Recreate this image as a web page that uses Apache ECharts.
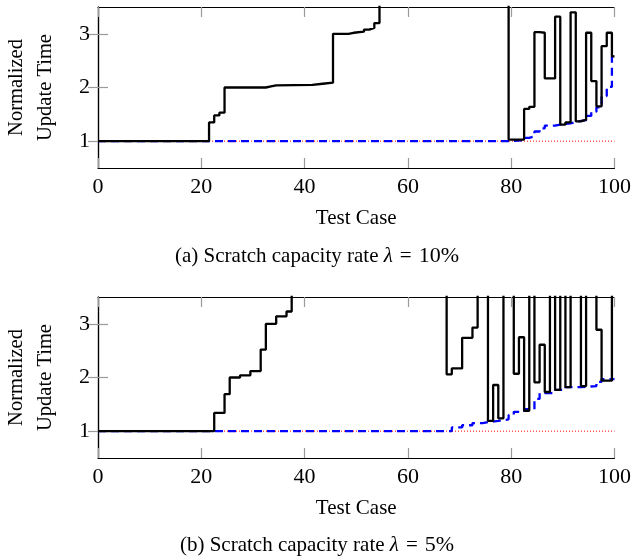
<!DOCTYPE html>
<html><head><meta charset="utf-8">
<script src="https://cdn.jsdelivr.net/npm/echarts@6/dist/echarts.min.js"></script>
<style>html,body{margin:0;padding:0;background:#fff}#c{width:634px;height:556px}</style>
</head><body><div id="c"></div>
<script>
// ---- data ----
const xTicks = [0, 20, 40, 60, 80, 100];
const yTicks = [1, 2, 3];

// (a) lambda = 10%
const topBlackX = [0, 21.5, 22.5, 23.5, 24.5, 32.5, 33.5, 34.5, 41.5, 43.5, 45.5, 48.5, 49.5, 51.5, 52.5, 53.5, 54.5, 79.5, 82.5, 83.5, 84.5, 85.5, 86.5, 88.5, 89.5, 90.5, 91.5, 92.5, 93.5, 94.5, 95.5, 96.5, 97.5, 98.5, 99.5, 100];
const topBlackY = [1.0, 1.35, 1.48, 1.53, 2.0, 2.02, 2.04, 2.05, 2.07, 2.09, 3.0, 3.02, 3.04, 3.08, 3.11, 3.2, 6.0, 1.03, 1.6, 1.64, 3.03, 3.02, 2.17, 3.32, 1.31, 1.35, 3.4, 1.37, 1.4, 3.02, 2.12, 1.65, 2.77, 3.02, 2.58, 2.58];
const topBlueX = [0, 79.5, 82.5, 83.5, 84.5, 85.5, 86.5, 88.5, 89.5, 91.5, 92.5, 94.5, 95.5, 96.5, 97.5, 98.5, 99.5, 100];
const topBlueY = [1.0, 1.02, 1.06, 1.09, 1.18, 1.24, 1.29, 1.31, 1.33, 1.36, 1.39, 1.47, 1.55, 1.63, 1.84, 2.01, 2.58, 2.58];

// (b) lambda = 5%
const botBlackX = [0, 22.5, 24.5, 25.5, 27.5, 29.5, 31.5, 32.5, 34.5, 36.5, 37.5, 67.5, 68.5, 70.5, 72.5, 73.5, 75.5, 76.5, 77.5, 78.5, 80.5, 81.5, 82.5, 83.5, 84.5, 85.5, 86.5, 87.5, 88.5, 89.5, 90.5, 91.5, 93.5, 94.5, 96.5, 97.5, 99.5, 100];
const botBlackY = [1.0, 1.34, 1.69, 2.0, 2.04, 2.12, 2.52, 3.0, 3.14, 3.23, 6.0, 2.06, 2.17, 2.74, 2.93, 6.0, 1.19, 1.86, 1.24, 6.0, 2.07, 2.75, 1.38, 6.0, 1.91, 2.61, 1.73, 6.0, 1.77, 6.0, 1.82, 6.0, 1.84, 6.0, 2.89, 1.94, 6.0, 6.0];
const botBlueX = [0, 68.5, 70.5, 72.5, 74.5, 75.5, 77.5, 79.5, 80.5, 82.5, 84.5, 85.5, 88.5, 90.5, 93.5, 96.5, 97.5, 100];
const botBlueY = [1.0, 1.07, 1.11, 1.15, 1.17, 1.19, 1.22, 1.3, 1.36, 1.41, 1.6, 1.71, 1.77, 1.82, 1.84, 1.92, 1.97, 1.97];

const baseX = [0, 100];
const baseY = [1, 1];

const captionA = '(a) Scratch capacity rate {i|λ}\u2004=\u2004{n|10%}';
const captionB = '(b) Scratch capacity rate {i|λ}\u2004=\u2004{n|5%}';
const yName = 'Normalized\nUpdate Time';
const xName = 'Test Case';

// ---- build ----
const zip = (xs, ys) => xs.map((x, i) => [x, ys[i]]);
const serif = 'Liberation Serif, Times New Roman, serif';
const grids = [
  {left: 98, top: 7, width: 517, height: 161},
  {left: 98, top: 297, width: 517, height: 161}
];
const tickStyle = {show: true, inside: true, length: 10, lineStyle: {color: '#9a9a9a', width: 1.2}};
const lineStyle = {show: true, lineStyle: {color: '#000', width: 1.2}};

const xAxes = [], yAxes = [];
grids.forEach((g, i) => {
  xAxes.push({gridIndex: i, type: 'value', min: 0, max: 100, interval: 20, position: 'bottom',
    axisLine: lineStyle, axisTick: tickStyle, splitLine: {show: false},
    axisLabel: {margin: 8, fontFamily: serif, fontSize: 22, color: '#000'},
    name: xName, nameLocation: 'middle', nameGap: 40,
    nameTextStyle: {fontFamily: serif, fontSize: 21, color: '#000'}});
  xAxes.push({gridIndex: i, type: 'value', min: 0, max: 100, interval: 20, position: 'top',
    axisLine: lineStyle, axisTick: tickStyle, splitLine: {show: false}, axisLabel: {show: false}});
  yAxes.push({gridIndex: i, type: 'value', min: 0.5, max: 3.5, position: 'left',
    axisLine: lineStyle, axisTick: Object.assign({customValues: yTicks}, tickStyle), splitLine: {show: false},
    axisLabel: {customValues: yTicks, margin: 8, fontFamily: serif, fontSize: 22, color: '#000'}});
  yAxes.push({gridIndex: i, type: 'value', min: 0.5, max: 3.5, position: 'right',
    axisLine: lineStyle, axisTick: Object.assign({customValues: yTicks}, tickStyle), splitLine: {show: false},
    axisLabel: {show: false}});
});

function sets(i, bx, by, ux, uy) {
  return [
    {type: 'line', xAxisIndex: 2 * i, yAxisIndex: 2 * i, data: zip(baseX, baseY), symbol: 'none', silent: true, z: 2,
      lineStyle: {color: '#ff0000', width: 1, type: [1, 2]}},
    {type: 'line', xAxisIndex: 2 * i, yAxisIndex: 2 * i, data: zip(ux, uy), step: 'end', symbol: 'none', silent: true, z: 3,
      lineStyle: {color: '#0000ff', width: 2.3, type: [8, 5]}},
    {type: 'line', xAxisIndex: 2 * i, yAxisIndex: 2 * i, data: zip(bx, by), step: 'end', symbol: 'none', silent: true, z: 4,
      lineStyle: {color: '#000', width: 2.3}}
  ];
}

const rich = {
  i: {fontFamily: serif, fontStyle: 'italic', fontSize: 21, fill: '#000'},
  n: {fontFamily: serif, fontSize: 22, fill: '#000'}
};
function caption(text, y) {
  return {type: 'text', x: 317, y: y, style: {text: text, fontFamily: serif, fontSize: 21, fill: '#000',
    align: 'center', verticalAlign: 'middle', rich: rich}};
}
function ylabel(y) {
  return {type: 'text', x: 31.5, y: y, rotation: Math.PI / 2, style: {text: yName, fontFamily: serif, fontSize: 20.5,
    fill: '#000', align: 'center', verticalAlign: 'middle', lineHeight: 29}};
}

const chart = echarts.init(document.getElementById('c'), null, {renderer: 'canvas', devicePixelRatio: 1});
chart.setOption({
  animation: false,
  backgroundColor: '#fff',
  grid: grids,
  xAxis: xAxes,
  yAxis: yAxes,
  series: sets(0, topBlackX, topBlackY, topBlueX, topBlueY).concat(sets(1, botBlackX, botBlackY, botBlueX, botBlueY)),
  graphic: [caption(captionA, 256), caption(captionB, 545), ylabel(87.5), ylabel(377.5)]
});
</script></body></html>
